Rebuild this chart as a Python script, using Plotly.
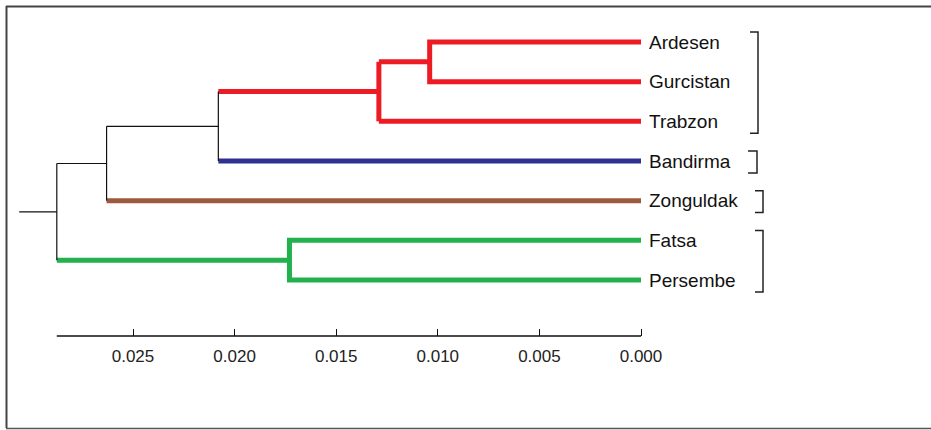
import plotly.graph_objects as go

# ---- data ----
leaves = ["Ardesen", "Gurcistan", "Trabzon", "Bandirma", "Zonguldak", "Fatsa", "Persembe"]
# node heights (distance)
h_ard_gur = 0.0104
h_red = 0.0129
h_red_band = 0.0208
h_zong = 0.0263
h_fat_per = 0.0173
h_root = 0.02875
h_stub = 0.0306
tick_vals = [0.025, 0.020, 0.015, 0.010, 0.005, 0.000]
tick_text = ["0.025", "0.020", "0.015", "0.010", "0.005", "0.000"]
groups = [(0, 2), (3, 3), (4, 4), (5, 6)]

RED = "#ED1C24"
BLUE = "#2E3192"
BROWN = "#9C5B3E"
GREEN = "#22B14C"
BLACK = "#111111"

W, H = 931, 430
y0px, dy = 42.0, 39.667
def py(p):
    return (p - y0px) / dy
yr = [py(H), py(0)]
axis_y = py(336)

fig = go.Figure()

def seg(xs, ys, color, width):
    fig.add_trace(go.Scatter(x=xs, y=ys, mode="lines",
                             line=dict(color=color, width=width),
                             hoverinfo="skip", showlegend=False))

TH = 5
TN = 1.2
# red cluster
seg([0, h_ard_gur, h_ard_gur, 0], [0, 0, 1, 1], RED, TH)
y_ag = 0.5
seg([h_ard_gur, h_red], [y_ag, y_ag], RED, TH)
seg([0, h_red], [2, 2], RED, TH)
seg([h_red, h_red], [y_ag, 2], RED, TH)
y_r = (y_ag + 2) / 2
seg([h_red, h_red_band], [y_r, y_r], RED, TH)
# Bandirma
seg([0, h_red_band], [3, 3], BLUE, TH)
seg([h_red_band, h_red_band], [y_r, 3], BLACK, TN)
y_rb = (y_r + 3) / 2
seg([h_red_band, h_zong], [y_rb, y_rb], BLACK, TN)
# Zonguldak
seg([0, h_zong], [4, 4], BROWN, TH)
seg([h_zong, h_zong], [y_rb, 4], BLACK, TN)
y_z = (y_rb + 4) / 2
seg([h_zong, h_root], [y_z, y_z], BLACK, TN)
# green cluster
seg([0, h_fat_per, h_fat_per, 0], [5, 5, 6, 6], GREEN, TH)
y_fp = 5.5
seg([h_fat_per, h_root], [y_fp, y_fp], GREEN, TH)
# root
seg([h_root, h_root], [y_z, y_fp], BLACK, TN)
y_root = (y_z + y_fp) / 2
seg([h_root, h_stub], [y_root, y_root], BLACK, TN)

# scale axis line
seg([h_root, 0], [axis_y, axis_y], BLACK, 1.3)

# brackets
def xv(px):
    return (641 - px) / 20320.0
bracket_px = [(758, 750), (757, 748), (763, 755), (763, 755)]
for (a, b), (vx, tx) in zip(groups, bracket_px):
    ytop = a - 0.25
    ybot = b + 0.3
    seg([xv(tx), xv(vx), xv(vx), xv(tx)], [ytop, ytop, ybot, ybot], "#222222", 1.5)

annotations = []
for i, name in enumerate(leaves):
    annotations.append(dict(x=0, y=i, xref="x", yref="y", text=name,
                            showarrow=False, xanchor="left", yanchor="middle",
                            xshift=6, font=dict(family="Liberation Sans, Arial", size=19, color="#111111")))

shapes = [
    dict(type="line", xref="paper", yref="paper", x0=6.5 / W, x1=6.5 / W, y0=1 - 6 / H, y1=1 - 428 / H,
         line=dict(color="#444444", width=2)),
    dict(type="line", xref="paper", yref="paper", x0=6 / W, x1=1, y0=1 - 6.5 / H, y1=1 - 6.5 / H,
         line=dict(color="#444444", width=2)),
    dict(type="line", xref="paper", yref="paper", x0=6 / W, x1=1, y0=1 - 428.5 / H, y1=1 - 428.5 / H,
         line=dict(color="#555555", width=1.5)),
]

fig.update_layout(
    width=W, height=H,
    margin=dict(l=0, r=0, t=0, b=0),
    paper_bgcolor="white", plot_bgcolor="white",
    showlegend=False,
    annotations=annotations,
    shapes=shapes,
    xaxis=dict(range=[641 / 20320.0, (641 - W) / 20320.0], showgrid=False, zeroline=False,
               showline=False, tickvals=tick_vals, ticktext=tick_text,
               ticks="inside", ticklen=7, tickwidth=1.3, tickcolor=BLACK,
               anchor="free", position=1 - 336 / H, side="bottom", ticklabelstandoff=8,
               tickfont=dict(family="Liberation Sans Narrow, Liberation Sans, Arial", size=17, color="#222222")),
    yaxis=dict(range=yr, showgrid=False, zeroline=False, showline=False,
               showticklabels=False, ticks=""),
)

fig.write_html("out.html", config={"displayModeBar": False},
               post_script="document.body.style.margin='0';document.body.style.overflow='hidden';")
